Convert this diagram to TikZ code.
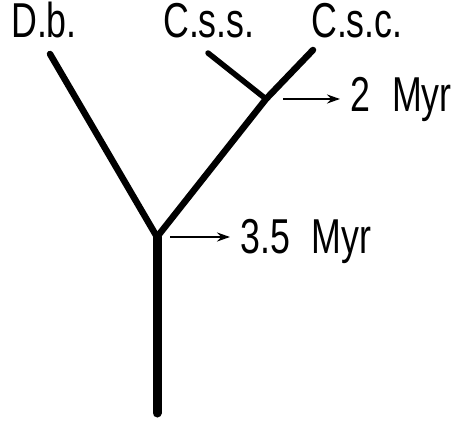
\documentclass[tikz,border=0pt]{standalone}
\usepackage{fontspec}
\setmainfont{Liberation Sans}[FakeStretch=0.73]
\usetikzlibrary{arrows.meta}

\begin{document}
\begin{tikzpicture}[
    x=1pt, y=-1pt,
    taxon/.style={anchor=base west, inner sep=0pt, font=\fontsize{49}{54}\selectfont},
    age/.style={anchor=base west, inner sep=0pt, font=\fontsize{49}{54}\selectfont},
    branch/.style={line width=6.5pt, line cap=round},
    stem/.style={line width=9pt, line cap=round},
    arrow/.style={-{Stealth[length=13pt, width=9pt]}, line width=2.4pt}
]
    \useasboundingbox (0,0) rectangle (452,422);

    % Taxon labels
    \node[taxon] (db) at (11,38) {D.b.};
    \node[taxon] (css) at (163,38) {C.s.s.};
    \node[taxon] (csc) at (311,38) {C.s.c.};

    % Tips, splits and root
    \coordinate (tipdb) at (50,54);
    \coordinate (tipcss) at (208,53);
    \coordinate (tipcsc) at (313,50);
    \coordinate (split2) at (266,99);
    \coordinate (split35) at (157,237);
    \coordinate (root) at (157,413);

    % Branches
    \draw[branch] (tipdb) -- (split35);
    \draw[branch] (tipcsc) -- (split2) -- (split35);
    \draw[branch, line width=5.5pt] (tipcss) -- (split2);
    \draw[stem] (split35) -- (root);

    % Divergence times
    \node[age] (myr2) at (350,112) {2\hspace{0.45em}Myr};
    \node[age] (myr35) at (240,253) {3.5\hspace{0.45em}Myr};

    \draw[arrow] ([xshift=17pt]split2) -- ([xshift=-10pt]split2 -| myr2.west);
    \draw[arrow] ([xshift=13pt]split35) -- ([xshift=-10pt]split35 -| myr35.west);

\end{tikzpicture}
\end{document}
